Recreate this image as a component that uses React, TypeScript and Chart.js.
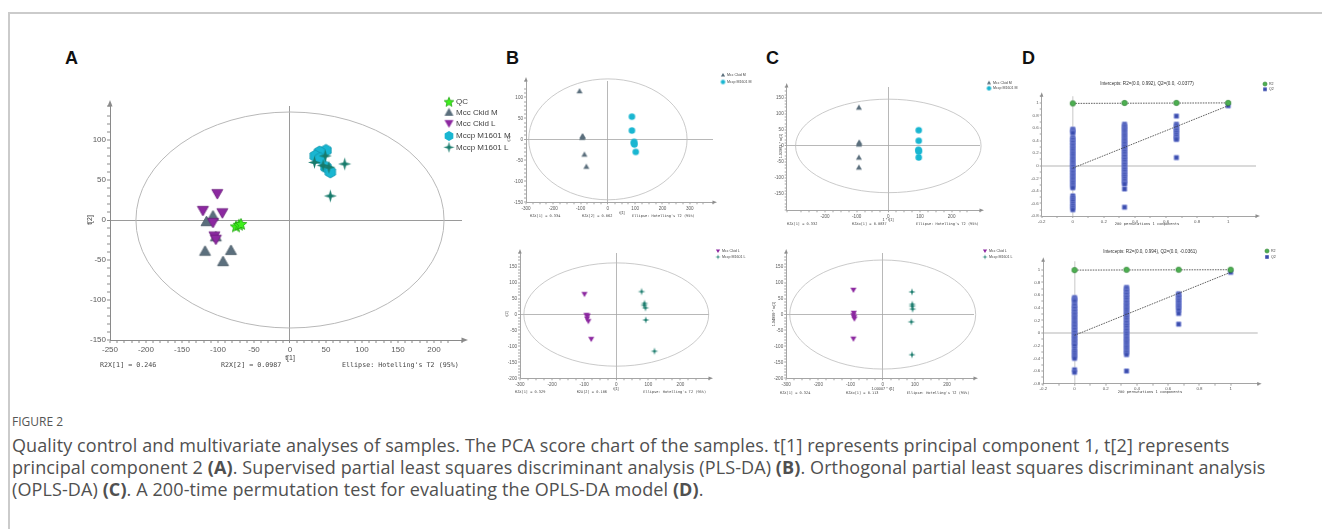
import React, { useEffect, useMemo, useRef } from 'react';
import { Chart, registerables } from 'chart.js';

Chart.register(...registerables);

const SANS = "'Liberation Sans', Arial, sans-serif";
const MONO = "'DejaVu Sans Mono', 'Liberation Mono', monospace";
const CAPTION_FONT = "'Open Sans', 'Noto Sans', sans-serif";

// ================= DATA =================
const groupLabels = ['QC', 'Mcc Ckid M', 'Mcc Ckid L', 'Mccp M1601 M', 'Mccp M1601 L'];

// Panel A (PCA scores t[1], t[2])
const aQcT1 = [-75, -71, -68];
const aQcT2 = [-8, -6, -5];
const aCkidMT1 = [-107, -116, -103, -118, -82, -93];
const aCkidMT2 = [5, -2, -21, -39, -38, -52];
const aCkidLT1 = [-101, -121, -94, -107, -105, -103];
const aCkidLT2 = [33, 12, 9, -3, -20, -24];
const aM1601MT1 = [50, 41, 35, 42, 50, 56];
const aM1601MT2 = [87, 85, 80, 77, 66, 60];
const aM1601LT1 = [34, 49, 46, 54, 76, 56];
const aM1601LT2 = [72, 80, 68, 66, 70, 30];
const aR2X = ['R2X[1] = 0.246', 'R2X[2] = 0.0987'];
const aEllipse = [214, 135];

// Panel B top (PLS-DA, M groups)
const bTopCkidMT1 = [-104, -93, -94, -92, -86, -79];
const bTopCkidMT2 = [115, 8, 4, 6, -36, -65];
const bTopM1601MT1 = [88, 88, 96, 95, 97, 102];
const bTopM1601MT2 = [54, 21, -6, -9, -12, -30];
const bTopR2X = ['R2X[1] = 0.334', 'R2X[2] = 0.062'];
const bTopEllipse = [290, 144];

// Panel B bottom (PLS-DA, L groups)
const bBotCkidLT1 = [-99, -93, -89, -91, -87, -78];
const bBotCkidLT2 = [64, -2, -4, -13, -21, -77];
const bBotM1601LT1 = [79, 88, 87, 91, 92, 119];
const bBotM1601LT2 = [72, 35, 29, 21, -17, -115];
const bBotR2X = ['R2X[1] = 0.329', 'R2X[2] = 0.106'];
const bBotEllipse = [288, 162];

// Panel C top (OPLS-DA, M groups)
const cTopCkidMT1 = [-93, -92, -93, -92, -93, -93];
const cTopCkidMT2 = [120, 11, 5, 8, -36, -67];
const cTopM1601MT1 = [96, 96, 95, 96, 96, 96];
const cTopM1601MT2 = [49, 16, -12, -14, -18, -36];
const cTopR2X = ['R2X[1] = 0.332', 'R2Xo[1] = 0.0837'];
const cTopAxisTitles = ['1 * t[1]', '1.02983 * to[1]'];
const cTopEllipse = [293, 146];

// Panel C bottom (OPLS-DA, L groups)
const cBotCkidLT1 = [-91, -90, -91, -89, -88, -91];
const cBotCkidLT2 = [77, 5, -2, -8, -13, -76];
const cBotM1601LT1 = [91, 92, 92, 93, 89, 91];
const cBotM1601LT2 = [71, 32, 26, 17, -23, -126];
const cBotR2X = ['R2X[1] = 0.324', 'R2Xo[1] = 0.113'];
const cBotAxisTitles = ['1.00007 * t[1]', '1.04999 * to[1]'];
const cBotEllipse = [289, 171];

// Panel D (permutation tests)
const dPermX = [0, 0.333, 0.667, 1];
const dTopTitle = 'Intercepts: R2=(0.0, 0.992), Q2=(0.0, -0.0377)';
const dTopR2 = [0.992, 0.999, 1, 1];
const dTopR2Intercept = 0.992;
const dTopQ2Intercept = -0.0377;
const dTopQ2AtX0 = [0.58, 0.56, 0.54, 0.52, 0.45, 0.43, 0.41, 0.38, 0.36, 0.33, 0.31, 0.28, 0.26, 0.23, 0.2, 0.18, 0.15, 0.12, 0.1, 0.07, 0.05, 0.02, 0.0, -0.02, -0.05, -0.07, -0.1, -0.12, -0.15, -0.17, -0.2, -0.22, -0.25, -0.27, -0.3, -0.33, -0.35, -0.48, -0.51, -0.54, -0.57, -0.61, -0.64, -0.67, -0.7];
const dTopQ2AtX1 = [0.66, 0.63, 0.61, 0.58, 0.56, 0.53, 0.5, 0.48, 0.45, 0.42, 0.4, 0.37, 0.35, 0.32, 0.3, 0.27, 0.24, 0.22, 0.19, 0.16, 0.14, 0.11, 0.09, 0.06, 0.03, 0.01, -0.02, -0.05, -0.07, -0.1, -0.13, -0.15, -0.18, -0.21, -0.24, -0.27, -0.29, -0.37, -0.66];
const dTopQ2AtX2 = [0.79, 0.66, 0.63, 0.6, 0.57, 0.55, 0.52, 0.49, 0.46, 0.43, 0.42, 0.13];
const dTopQ2AtX3 = [0.955];

const dBotTitle = 'Intercepts: R2=(0.0, 0.994), Q2=(0.0, -0.0361)';
const dBotR2 = [0.994, 0.999, 1, 1];
const dBotR2Intercept = 0.994;
const dBotQ2Intercept = -0.0361;
const dBotQ2AtX0 = [0.56, 0.54, 0.52, 0.5, 0.45, 0.43, 0.4, 0.38, 0.35, 0.33, 0.3, 0.28, 0.25, 0.23, 0.2, 0.17, 0.15, 0.12, 0.1, 0.07, 0.05, 0.02, 0.0, -0.03, -0.05, -0.08, -0.1, -0.13, -0.15, -0.18, -0.2, -0.25, -0.28, -0.31, -0.34, -0.37, -0.4, -0.58, -0.62];
const dBotQ2AtX1 = [0.72, 0.7, 0.67, 0.65, 0.62, 0.6, 0.57, 0.55, 0.52, 0.49, 0.47, 0.44, 0.42, 0.39, 0.37, 0.34, 0.31, 0.29, 0.26, 0.24, 0.21, 0.18, 0.16, 0.13, 0.11, 0.08, 0.05, 0.03, 0.0, -0.02, -0.05, -0.08, -0.1, -0.13, -0.15, -0.18, -0.21, -0.23, -0.26, -0.29, -0.31, -0.34, -0.6];
const dBotQ2AtX2 = [0.62, 0.6, 0.57, 0.55, 0.52, 0.5, 0.47, 0.44, 0.42, 0.39, 0.36, 0.31, 0.14];
const dBotQ2AtX3 = [0.96];
const dXTitle = '200 permutations 1 components';
const ellipseText = "Ellipse: Hotelling's T2 (95%)";

// ================= HELPERS =================
type Pt = { x: number; y: number };
const zip = (xs: number[], ys: number[]): Pt[] => xs.map((x, i) => ({ x, y: ys[i] }));
const col = (x: number, ys: number[]): Pt[] => ys.map((y) => ({ x, y }));

function marker(kind: string, size: number, fill: string, stroke = '', lw = 0.8): HTMLCanvasElement {
  const pad = 2;
  const dim = Math.round(size) + pad * 2;
  const c = document.createElement('canvas');
  c.width = dim;
  c.height = dim;
  const g = c.getContext('2d') as CanvasRenderingContext2D;
  const cx = dim / 2;
  const cy = dim / 2;
  const R = size / 2;
  g.beginPath();
  if (kind === 'star5') {
    for (let i = 0; i < 10; i++) {
      const r = i % 2 === 0 ? R : R * 0.45;
      const a = -Math.PI / 2 + (i * Math.PI) / 5;
      g.lineTo(cx + r * Math.cos(a), cy + 0.5 + r * Math.sin(a));
    }
  } else if (kind === 'triUp') {
    g.moveTo(cx, cy - R);
    g.lineTo(cx + R, cy + R * 0.75);
    g.lineTo(cx - R, cy + R * 0.75);
  } else if (kind === 'triDown') {
    g.moveTo(cx, cy + R);
    g.lineTo(cx + R, cy - R * 0.75);
    g.lineTo(cx - R, cy - R * 0.75);
  } else if (kind === 'hex') {
    for (let i = 0; i < 6; i++) {
      const a = Math.PI / 6 + (i * Math.PI) / 3;
      g.lineTo(cx + R * Math.cos(a), cy + R * Math.sin(a));
    }
  } else if (kind === 'star4') {
    for (let i = 0; i < 8; i++) {
      const r = i % 2 === 0 ? R : R * 0.3;
      const a = -Math.PI / 2 + (i * Math.PI) / 4;
      g.lineTo(cx + r * Math.cos(a), cy + r * Math.sin(a));
    }
  } else if (kind === 'circle') {
    g.arc(cx, cy, R, 0, Math.PI * 2);
  } else if (kind === 'square') {
    g.rect(cx - R, cy - R, R * 2, R * 2);
  }
  g.closePath();
  g.fillStyle = fill;
  g.fill();
  if (stroke) {
    g.lineWidth = lw;
    g.strokeStyle = stroke;
    g.stroke();
  }
  return c;
}

const fmt = (v: number) => String(Math.round(v * 100) / 100);

function axis(pos: 'x' | 'y', a: any, size: number, st: any) {
  const isMult = (v: number) => Math.abs(v / a.every - Math.round(v / a.every)) < 1e-6;
  const isZero = (c: any) => c.tick && Math.abs(c.tick.value) < 1e-9;
  return {
    type: 'linear',
    position: pos === 'x' ? 'bottom' : 'left',
    min: a.min,
    max: a.max,
    afterFit: (s: any) => {
      if (pos === 'x') s.height = size;
      else s.width = size;
    },
    border: { display: true, color: st.axis, width: st.axisW },
    grid: {
      display: true,
      drawOnChartArea: true,
      drawTicks: true,
      tickLength: a.tick,
      tickColor: st.axis,
      tickWidth: st.axisW,
      color: (c: any) => (isZero(c) ? st.zero : 'rgba(0,0,0,0)'),
      lineWidth: (c: any) => (isZero(c) ? st.zeroW[pos] : 0),
    },
    ticks: {
      stepSize: a.step,
      autoSkip: false,
      maxRotation: 0,
      minRotation: 0,
      padding: a.pad,
      color: '#5a5a5a',
      font: { family: SANS, size: a.font },
      callback: (v: number) => (isMult(v) && v <= a.lmax + 1e-9 ? fmt(v) : ''),
    },
  };
}

function decorPlugin(s: any) {
  return {
    id: 'decor',
    beforeDatasetsDraw(chart: any) {
      if (!s.ellipse) return;
      const { ctx } = chart;
      const sx = chart.scales.x;
      const sy = chart.scales.y;
      const cx = sx.getPixelForValue(0);
      const cy = sy.getPixelForValue(0);
      const rx = Math.abs(sx.getPixelForValue(s.ellipse[0]) - cx);
      const ry = Math.abs(sy.getPixelForValue(s.ellipse[1]) - cy);
      ctx.save();
      ctx.beginPath();
      ctx.ellipse(cx, cy, rx, ry, 0, 0, Math.PI * 2);
      ctx.strokeStyle = s.ellipseColor;
      ctx.lineWidth = s.ellipseW;
      ctx.stroke();
      ctx.restore();
    },
    afterDraw(chart: any) {
      const { ctx, chartArea: a } = chart;
      ctx.save();
      const k = s.arrow;
      ctx.fillStyle = s.style.axis;
      ctx.beginPath();
      ctx.moveTo(a.right + k, a.bottom);
      ctx.lineTo(a.right - 0.5, a.bottom - k * 0.42);
      ctx.lineTo(a.right - 0.5, a.bottom + k * 0.42);
      ctx.closePath();
      ctx.fill();
      ctx.beginPath();
      ctx.moveTo(a.left, a.top - k);
      ctx.lineTo(a.left - k * 0.42, a.top + 0.5);
      ctx.lineTo(a.left + k * 0.42, a.top + 0.5);
      ctx.closePath();
      ctx.fill();
      for (const t of s.texts) {
        ctx.save();
        ctx.translate(t.x - s.ox, t.y - s.oy);
        if (t.r) ctx.rotate(t.r);
        ctx.font = t.f;
        ctx.fillStyle = t.c || '#444';
        ctx.textAlign = t.a || 'left';
        ctx.textBaseline = 'middle';
        ctx.fillText(t.t, 0, 0);
        ctx.restore();
      }
      if (s.legend) {
        const L = s.legend;
        L.markers.forEach((m: HTMLCanvasElement, i: number) => {
          const x = L.x - s.ox;
          const y = L.ys[i] - s.oy;
          ctx.drawImage(m, x - m.width / 2, y - m.height / 2);
          ctx.font = L.font;
          ctx.fillStyle = L.color;
          ctx.textAlign = 'left';
          ctx.textBaseline = 'middle';
          ctx.fillText(chart.data.datasets[i].label, L.tx - s.ox, y);
        });
      }
      ctx.restore();
    },
  };
}

function buildSpec(s: any) {
  const yW = s.yW;
  const xH = s.oy + s.h - s.area.b;
  const padding = {
    left: s.area.l - s.ox - yW,
    top: s.area.t - s.oy,
    right: s.ox + s.w - s.area.r,
    bottom: 0,
  };
  const config: any = {
    type: 'scatter',
    data: { datasets: s.datasets },
    options: {
      responsive: false,
      animation: false,
      devicePixelRatio: 1,
      events: [],
      layout: { padding },
      scales: {
        x: axis('x', s.x, xH, s.style),
        y: axis('y', s.y, yW, s.style),
      },
      plugins: { legend: { display: false }, tooltip: { enabled: false } },
    },
    plugins: [decorPlugin(s)],
  };
  return { ox: s.ox, oy: s.oy, w: s.w, h: s.h, config };
}

function pointsDs(label: string, data: Pt[], img: HTMLCanvasElement, order: number) {
  return { label, data, pointStyle: img, pointRadius: 4, order, backgroundColor: '#000', borderColor: '#000' };
}

function lineDs(data: Pt[], order: number) {
  return {
    label: '',
    data,
    showLine: true,
    pointRadius: 0,
    borderColor: '#3a3a3a',
    borderWidth: 0.8,
    borderDash: [1.6, 1],
    order,
  };
}

const COL = {
  qc: '#3ef01c',
  m: '#5b6f7d',
  l: '#8c28a0',
  mm: '#19b6d1',
  ml: '#177a6b',
};

const smallStyle = { axis: '#8e8e8e', axisW: 0.8, zero: '#a6a6a6', zeroW: { x: 0.8, y: 0.8 } };

// ================= PANELS =================
function specA() {
  const mk = [
    marker('star5', 12, COL.qc, '#25a515'),
    marker('triUp', 11, COL.m, '#4a5b67'),
    marker('triDown', 11, COL.l, '#6b1c7c'),
    marker('hex', 12, COL.mm, '#1296ad'),
    marker('star4', 13, COL.ml),
  ];
  const lg = [
    marker('star5', 10, COL.qc, '#25a515'),
    marker('triUp', 9, COL.m),
    marker('triDown', 9, COL.l),
    marker('hex', 10, COL.mm),
    marker('star4', 11, COL.ml),
  ];
  const mono = `6.7px ${MONO}`;
  return buildSpec({
    ox: 60, oy: 85, w: 470, h: 295,
    area: { l: 110, t: 106, r: 462, b: 340 },
    yW: 40,
    x: { min: -250, max: 238.9, step: 10, every: 50, lmax: 200, font: 8, tick: 3, pad: 2 },
    y: { min: -150, max: 142.5, step: 10, every: 50, lmax: 100, font: 8, tick: 3, pad: 1 },
    style: { axis: '#8a8a8a', axisW: 1, zero: '#9a9a9a', zeroW: { x: 1, y: 1 } },
    ellipse: aEllipse, ellipseColor: '#b8b8b8', ellipseW: 1,
    arrow: 6,
    datasets: [
      pointsDs(groupLabels[0], zip(aQcT1, aQcT2), mk[0], 0),
      pointsDs(groupLabels[1], zip(aCkidMT1, aCkidMT2), mk[1], 4),
      pointsDs(groupLabels[2], zip(aCkidLT1, aCkidLT2), mk[2], 3),
      pointsDs(groupLabels[3], zip(aM1601MT1, aM1601MT2), mk[3], 2),
      pointsDs(groupLabels[4], zip(aM1601LT1, aM1601LT2), mk[4], 1),
    ],
    texts: [
      { t: 't[1]', x: 290, y: 358, f: `7px ${SANS}`, a: 'center' },
      { t: 't[2]', x: 90, y: 220, f: `7px ${SANS}`, a: 'center', r: -Math.PI / 2 },
      { t: aR2X[0], x: 100, y: 365, f: mono },
      { t: aR2X[1], x: 221, y: 365, f: mono },
      { t: ellipseText, x: 342, y: 365, f: mono },
    ],
    legend: { x: 449, tx: 456, ys: [101.7, 112.3, 123.3, 136, 147.3], font: `8px ${SANS}`, color: '#444', markers: lg },
  });
}

function specPair(o: any) {
  const left = marker(o.leftKind, 6, o.leftCol);
  const right = o.rightKind === 'circle' ? marker('circle', 6.5, COL.mm) : marker('star4', 7.5, COL.ml);
  const lgL = marker(o.leftKind, 4.2, o.leftCol);
  const lgR = o.rightKind === 'circle' ? marker('circle', 4.5, COL.mm) : marker('star4', 5, COL.ml);
  const mono = `3.6px ${MONO}`;
  return buildSpec({
    ox: o.ox, oy: o.oy, w: o.w, h: o.h,
    area: o.area,
    yW: o.yW,
    x: { ...o.x, step: 25, every: 100, font: 4.6, tick: 2, pad: 1.3 },
    y: { ...o.y, step: 10, every: 50, lmax: o.y.lmax, font: 4.6, tick: 2, pad: 1 },
    style: smallStyle,
    ellipse: o.ellipse, ellipseColor: '#bcbcbc', ellipseW: 0.8,
    arrow: 4,
    datasets: [
      pointsDs(o.labels[0], o.left, left, 1),
      pointsDs(o.labels[1], o.right, right, 0),
    ],
    texts: [
      { t: o.xTitle, x: o.xTitlePos[0], y: o.xTitlePos[1], f: `3.8px ${SANS}`, a: 'center' },
      { t: o.yTitle, x: o.yTitlePos[0], y: o.yTitlePos[1], f: `3.8px ${SANS}`, a: 'center', r: -Math.PI / 2 },
      { t: o.r2x[0], x: o.rowX[0], y: o.rowY, f: mono },
      { t: o.r2x[1], x: o.rowX[1], y: o.rowY, f: mono },
      { t: ellipseText, x: o.rowX[2], y: o.rowY, f: mono },
    ],
    legend: { x: o.lg[0], tx: o.lg[0] + 4, ys: o.lg.slice(1), font: `3.6px ${SANS}`, color: '#444', markers: [lgL, lgR] },
  });
}

const specBTop = () =>
  specPair({
    ox: 500, oy: 60, w: 260, h: 170,
    area: { l: 526, t: 81, r: 713, b: 202.3 }, yW: 20,
    x: { min: -300, max: 385, lmax: 300 },
    y: { min: -150, max: 139, lmax: 100 },
    ellipse: bTopEllipse,
    leftKind: 'triUp', leftCol: COL.m, rightKind: 'circle',
    labels: [groupLabels[1], groupLabels[3]],
    left: zip(bTopCkidMT1, bTopCkidMT2), right: zip(bTopM1601MT1, bTopM1601MT2),
    xTitle: 't[1]', xTitlePos: [622, 212.8], yTitle: 't[2]', yTitlePos: [509, 139],
    r2x: bTopR2X, rowX: [530, 582, 632], rowY: 216,
    lg: [723, 75, 82],
  });

const specBBot = () =>
  specPair({
    ox: 500, oy: 240, w: 260, h: 160,
    area: { l: 520, t: 253, r: 709, b: 378.3 }, yW: 16,
    x: { min: -300, max: 289, lmax: 200 },
    y: { min: -200, max: 193, lmax: 150 },
    ellipse: bBotEllipse,
    leftKind: 'triDown', leftCol: COL.l, rightKind: 'star4',
    labels: [groupLabels[2], groupLabels[4]],
    left: zip(bBotCkidLT1, bBotCkidLT2), right: zip(bBotM1601LT1, bBotM1601LT2),
    xTitle: 't[1]', xTitlePos: [616, 388.7], yTitle: 't[2]', yTitlePos: [507, 314],
    r2x: bBotR2X, rowX: [515, 576.7, 643.3], rowY: 391.7,
    lg: [718, 251, 257],
  });

const specCTop = () =>
  specPair({
    ox: 760, oy: 70, w: 260, h: 165,
    area: { l: 786.7, t: 87, r: 980, b: 210.3 }, yW: 20,
    x: { min: -321, max: 289.6, lmax: 200 },
    y: { min: -201, max: 184, lmax: 150 },
    ellipse: cTopEllipse,
    leftKind: 'triUp', leftCol: COL.m, rightKind: 'circle',
    labels: [groupLabels[1], groupLabels[3]],
    left: zip(cTopCkidMT1, cTopCkidMT2), right: zip(cTopM1601MT1, cTopM1601MT2),
    xTitle: cTopAxisTitles[0], xTitlePos: [888, 220], yTitle: cTopAxisTitles[1], yTitlePos: [781, 146],
    r2x: cTopR2X, rowX: [787, 852, 916], rowY: 223.7,
    lg: [989, 82.7, 88.3],
  });

const specCBot = () =>
  specPair({
    ox: 760, oy: 240, w: 260, h: 160,
    area: { l: 786.2, t: 253, r: 974, b: 378.3 }, yW: 20,
    x: { min: -300, max: 283.8, lmax: 200 },
    y: { min: -200, max: 193, lmax: 150 },
    ellipse: cBotEllipse,
    leftKind: 'triDown', leftCol: COL.l, rightKind: 'star4',
    labels: [groupLabels[2], groupLabels[4]],
    left: zip(cBotCkidLT1, cBotCkidLT2), right: zip(cBotM1601LT1, cBotM1601LT2),
    xTitle: cBotAxisTitles[0], xTitlePos: [882.7, 389.3], yTitle: cBotAxisTitles[1], yTitlePos: [774, 314],
    r2x: cBotR2X, rowX: [780, 846, 906.7], rowY: 393.3,
    lg: [985, 251, 257],
  });

function specPerm(o: any) {
  const r2 = marker('circle', 5.5, '#4caf50', '#2e7d32', 0.6);
  const q2 = marker('square', 4.4, '#3a4cad', '#7f8dd8', 0.7);
  const lr2 = marker('circle', 4.2, '#4caf50', '#2e7d32', 0.5);
  const lq2 = marker('square', 3.6, '#3a4cad');
  const q2pts = [
    ...col(dPermX[0], o.q2[0]),
    ...col(dPermX[1], o.q2[1]),
    ...col(dPermX[2], o.q2[2]),
    ...col(dPermX[3], o.q2[3]),
  ];
  return buildSpec({
    ox: o.ox, oy: o.oy, w: o.w, h: o.h,
    area: o.area, yW: 20,
    x: { min: -0.2, max: o.xmax, step: 0.1, every: 0.2, lmax: 1, font: 4.4, tick: 2, pad: o.xpad },
    y: { min: -0.8, max: o.ymax, step: 0.1, every: 0.2, lmax: 1, font: 4.4, tick: 2, pad: 1 },
    style: { axis: '#8e8e8e', axisW: 0.8, zero: '#dadada', zeroW: { x: 1.5, y: 2 } },
    arrow: 4,
    datasets: [
      pointsDs('R2', zip(dPermX, o.r2), r2, 0),
      pointsDs('Q2', q2pts, q2, 3),
      lineDs([{ x: 0, y: o.r2i }, { x: 1, y: o.r2[3] }], 1),
      lineDs([{ x: 0, y: o.q2i }, { x: 1, y: o.q2[3][0] }], 2),
    ],
    texts: [
      { t: o.title, x: o.titlePos[0], y: o.titlePos[1], f: `4.6px ${SANS}`, a: 'center', c: '#333' },
      { t: dXTitle, x: o.xtPos[0], y: o.xtPos[1], f: `3.7px ${MONO}`, a: 'center' },
    ],
    legend: { x: o.lg[0], tx: o.lg[0] + 4, ys: o.lg.slice(1), font: `3.6px ${SANS}`, color: '#444', markers: [lr2, lq2] },
  });
}

const specDTop = () =>
  specPerm({
    ox: 1015, oy: 75, w: 307, h: 160,
    area: { l: 1041.7, t: 96.3, r: 1256, b: 216 },
    xmax: 1.179, ymax: 1.105, xpad: 1,
    r2: dTopR2, r2i: dTopR2Intercept, q2i: dTopQ2Intercept,
    q2: [dTopQ2AtX0, dTopQ2AtX1, dTopQ2AtX2, dTopQ2AtX3],
    title: dTopTitle, titlePos: [1147, 84], xtPos: [1147, 224.3],
    lg: [1265, 84, 89.3],
  });

const specDBot = () =>
  specPerm({
    ox: 1015, oy: 240, w: 307, h: 160,
    area: { l: 1043.3, t: 261.3, r: 1257.7, b: 383.7 },
    xmax: 1.173, ymax: 1.133, xpad: 0.6,
    r2: dBotR2, r2i: dBotR2Intercept, q2i: dBotQ2Intercept,
    q2: [dBotQ2AtX0, dBotQ2AtX1, dBotQ2AtX2, dBotQ2AtX3],
    title: dBotTitle, titlePos: [1150, 251.7], xtPos: [1150, 392.3],
    lg: [1267, 251, 257],
  });

// ================= COMPONENTS =================
function Panel({ make }: { make: () => any }) {
  const spec = useMemo(make, []);
  const ref = useRef<HTMLCanvasElement>(null);
  useEffect(() => {
    const chart = new Chart(ref.current as HTMLCanvasElement, spec.config);
    return () => chart.destroy();
  }, [spec]);
  return (
    <canvas
      ref={ref}
      width={spec.w}
      height={spec.h}
      style={{ position: 'absolute', left: spec.ox, top: spec.oy, width: spec.w, height: spec.h, display: 'block' }}
    />
  );
}

const letterStyle = (left: number): React.CSSProperties => ({
  position: 'absolute',
  left,
  top: 49,
  font: `700 18px/18px ${SANS}`,
  color: '#111',
});

export default function App() {
  return (
    <div style={{ position: 'absolute', left: 0, top: 0, width: 1322, height: 529, background: '#fff', overflow: 'hidden' }}>
      <div
        style={{
          position: 'absolute',
          left: 8,
          top: 12,
          width: 1314,
          height: 517,
          boxSizing: 'border-box',
          borderTop: '2px solid #cbcbcb',
          borderLeft: '2px solid #cbcbcb',
        }}
      />
      <div style={letterStyle(65)}>A</div>
      <div style={letterStyle(506)}>B</div>
      <div style={letterStyle(766)}>C</div>
      <div style={letterStyle(1022)}>D</div>
      <Panel make={specA} />
      <Panel make={specBTop} />
      <Panel make={specBBot} />
      <Panel make={specCTop} />
      <Panel make={specCBot} />
      <Panel make={specDTop} />
      <Panel make={specDBot} />
      <div style={{ position: 'absolute', left: 12, top: 414, font: `12px/16px ${CAPTION_FONT}`, color: '#555', whiteSpace: 'nowrap' }}>
        FIGURE 2
      </div>
      <div
        style={{
          position: 'absolute',
          left: 12,
          top: 434,
          font: `18px/22px ${CAPTION_FONT}`,
          letterSpacing: '0.1px',
          color: '#505050',
          whiteSpace: 'nowrap',
        }}
      >
        Quality control and multivariate analyses of samples. The PCA score chart of the samples. t[1] represents principal component 1, t[2] represents
        <br />
        principal component 2 <b>(A)</b>. Supervised partial least squares discriminant analysis (PLS-DA) <b>(B)</b>. Orthogonal partial least squares discriminant analysis
        <br />
        (OPLS-DA) <b>(C)</b>. A 200-time permutation test for evaluating the OPLS-DA model <b>(D)</b>.
      </div>
    </div>
  );
}
